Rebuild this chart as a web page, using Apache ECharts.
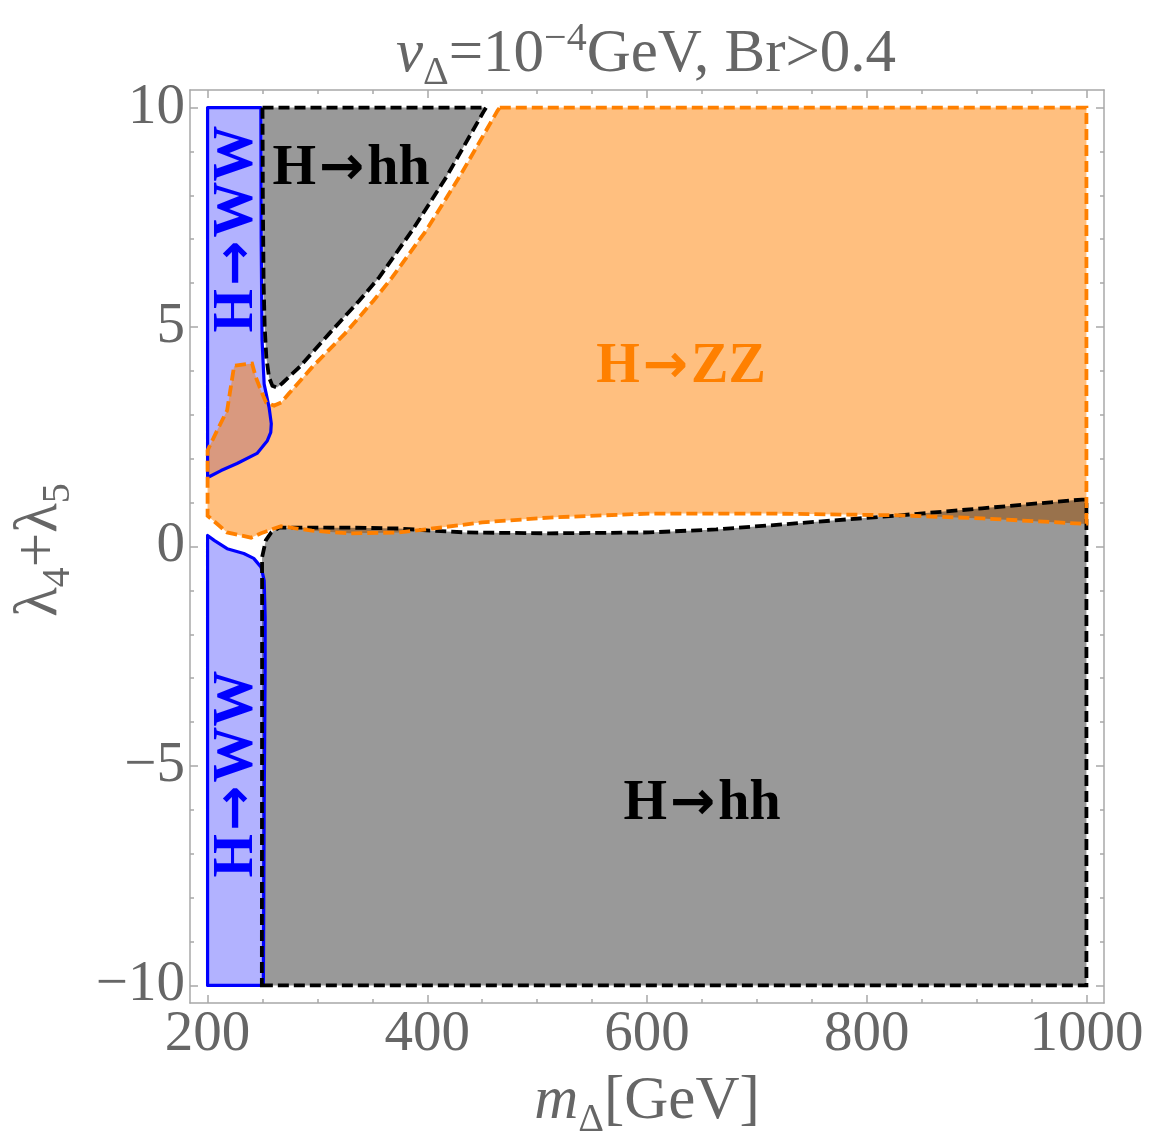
<!DOCTYPE html>
<html><head><meta charset="utf-8">
<script src="https://cdn.jsdelivr.net/npm/echarts@6/dist/echarts.min.js"></script>
<style>html,body{margin:0;padding:0;background:#fff}#c{width:1168px;height:1138px}</style>
</head><body><div id="c"></div>
<script>
// ---- tick data ----
const xMajorTicks = [200, 400, 600, 800, 1000];
const xTickLabels = ['200', '400', '600', '800', '1000'];
const xMinorTicks = [250, 300, 350, 450, 500, 550, 650, 700, 750, 850, 900, 950];
const yMajorTicks = [-10, -5, 0, 5, 10];
const yTickLabels = ['\u221210', '\u22125', '0', '5', '10'];
const yMinorTicks = [-9, -8, -7, -6, -4, -3, -2, -1, 1, 2, 3, 4, 6, 7, 8, 9];

// ---- region boundaries [m_Delta, lambda4+lambda5] ----
const blueUpper = [[200,10],[248.5,10],[248.8,7],[249.3,5.5],[249.6,4.7],[251.5,3.7],[256,3.17],[258,2.8],[257.5,2.6],[254.4,2.41],[245,2.12],[226.8,1.89],[212.3,1.73],[201.4,1.59],[200,1.59]];
const blueLower = [[200,-10],[250.8,-10],[251.5,-6],[252.4,-2.75],[252.4,-1.6],[251.5,-0.77],[248.7,-0.47],[242,-0.27],[233,-0.16],[217.8,-0.05],[206,0.14],[200,0.25]];
const grayUpper = [[250,10],[453.6,10],[451.8,9.93],[417.2,8.41],[386.2,7.2],[356.2,6.13],[338,5.6],[310.7,4.85],[283.3,4.08],[268,3.72],[263.3,3.62],[259,3.66],[256,3.85],[253.5,4.3],[252,5.0],[251,6.0],[250.3,8.0]];
const grayLower = [[249.4,-10],[1000,-10],[1000,1.07],[996,1.07],[905,0.87],[830,0.71],[711,0.48],[663,0.39],[602,0.32],[511,0.30],[435,0.32],[405,0.36],[374,0.41],[329,0.43],[265,0.43],[258,0.32],[253,0.14],[249.6,-0.25],[249.6,-0.7],[249.6,-3]];
const orangeZZ = [[466,10],[1000,10],[1000,0.52],[996,0.52],[905,0.64],[830,0.71],[711,0.75],[602,0.75],[511,0.66],[450,0.55],[405,0.41],[374,0.32],[329,0.30],[295,0.36],[267,0.46],[260.6,0.41],[248.7,0.3],[239.6,0.2],[217.8,0.32],[200,0.7],[200,2.19],[208.6,2.64],[217.8,3.1],[224.2,4.12],[240.5,4.17],[244,3.85],[248.7,3.55],[253.3,3.28],[260.6,3.21],[267,3.28],[274.2,3.49],[295,4.08],[325,4.85],[351,5.6],[368,6.13],[399,7.2],[429,8.41],[464,9.93]];

const SERIF = '"Liberation Serif", "Times New Roman", serif';
const GRAYTXT = '#666666';
const FRAME = '#a8a8a8';

function polySeries(pts, style, z) {
  return {
    type: 'custom', xAxisIndex: 0, yAxisIndex: 0, z: z, silent: true, animation: false,
    data: [0],
    renderItem: function (params, api) {
      return { type: 'polygon', shape: { points: pts.map(function (p) { return api.coord(p); }) }, style: style };
    }
  };
}

const fillBlue = 'rgba(0,0,255,0.3)';
const fillOrange = 'rgba(255,128,0,0.5)';
const fillGray = 'rgba(0,0,0,0.4)';
const dash = [11, 5];

const series = [
  polySeries(blueUpper, { fill: fillBlue, stroke: 'none' }, 2),
  polySeries(blueLower, { fill: fillBlue, stroke: 'none' }, 2),
  polySeries(orangeZZ, { fill: fillOrange, stroke: 'none' }, 3),
  polySeries(grayUpper, { fill: fillGray, stroke: 'none' }, 4),
  polySeries(grayLower, { fill: fillGray, stroke: 'none' }, 4),
  polySeries(blueUpper, { fill: 'none', stroke: '#0000ff', lineWidth: 3.2, lineJoin: 'round' }, 6),
  polySeries(blueLower, { fill: 'none', stroke: '#0000ff', lineWidth: 3.2, lineJoin: 'round' }, 6),
  polySeries(grayUpper, { fill: 'none', stroke: '#000000', lineWidth: 3.8, lineDash: dash }, 7),
  polySeries(grayLower, { fill: 'none', stroke: '#000000', lineWidth: 3.8, lineDash: dash }, 7),
  polySeries(orangeZZ, { fill: 'none', stroke: '#ff8000', lineWidth: 3.8, lineDash: dash }, 8)
];

const XMIN = 184, XMAX = 1016, YMIN = -10.4, YMAX = 10.4;
function axisBase(extra) {
  return Object.assign({ type: 'value', splitLine: { show: false }, axisLine: { show: false, onZero: false } }, extra);
}
const lineSt = { color: FRAME, width: 1.5 };

const xAxes = [
  axisBase({ position: 'bottom', min: XMIN, max: XMAX,
    axisLine: { show: true, onZero: false, lineStyle: lineSt },
    axisTick: { show: true, inside: true, length: 8, customValues: xMajorTicks, lineStyle: lineSt },
    axisLabel: { show: true, customValues: xMajorTicks, margin: 4, fontSize: 57, fontFamily: SERIF, color: GRAYTXT,
      formatter: function (v) { const i = xMajorTicks.indexOf(v); return i >= 0 ? xTickLabels[i] : ''; } } }),
  axisBase({ position: 'bottom', min: XMIN, max: XMAX,
    axisTick: { show: true, inside: true, length: 4, customValues: xMinorTicks, lineStyle: lineSt },
    axisLabel: { show: false } }),
  axisBase({ position: 'top', min: XMIN, max: XMAX,
    axisLine: { show: true, onZero: false, lineStyle: lineSt },
    axisTick: { show: true, inside: true, length: 8, customValues: xMajorTicks, lineStyle: lineSt },
    axisLabel: { show: false } }),
  axisBase({ position: 'top', min: XMIN, max: XMAX,
    axisTick: { show: true, inside: true, length: 4, customValues: xMinorTicks, lineStyle: lineSt },
    axisLabel: { show: false } })
];
const yAxes = [
  axisBase({ position: 'left', min: YMIN, max: YMAX,
    axisLine: { show: true, onZero: false, lineStyle: lineSt },
    axisTick: { show: true, inside: true, length: 8, customValues: yMajorTicks, lineStyle: lineSt },
    axisLabel: { show: true, customValues: yMajorTicks, margin: 5, fontSize: 57, fontFamily: SERIF, color: GRAYTXT,
      formatter: function (v) { const i = yMajorTicks.indexOf(v); return i >= 0 ? yTickLabels[i] : ''; } } }),
  axisBase({ position: 'left', min: YMIN, max: YMAX,
    axisTick: { show: true, inside: true, length: 4, customValues: yMinorTicks, lineStyle: lineSt },
    axisLabel: { show: false } }),
  axisBase({ position: 'right', min: YMIN, max: YMAX,
    axisLine: { show: true, onZero: false, lineStyle: lineSt },
    axisTick: { show: true, inside: true, length: 8, customValues: yMajorTicks, lineStyle: lineSt },
    axisLabel: { show: false } }),
  axisBase({ position: 'right', min: YMIN, max: YMAX,
    axisTick: { show: true, inside: true, length: 4, customValues: yMinorTicks, lineStyle: lineSt },
    axisLabel: { show: false } })
];

function tok(size, pb, italic) {
  return { fontFamily: SERIF, fontSize: size, lineHeight: size, fontStyle: italic ? 'italic' : 'normal',
    padding: [0, 0, pb, 0], verticalAlign: 'bottom', fill: GRAYTXT, color: GRAYTXT };
}
const richMath = { it: tok(61, 8, true), n: tok(61, 8, false), sub: tok(40, 0, false), sup: tok(40, 34, false) };

function regionLabel(a, b, x, y, color, rot) {
  const t = { fontFamily: SERIF, fontWeight: 'bold', fontSize: 56, lineHeight: 60, verticalAlign: 'middle', fill: color, color: color };
  const arr = { fontFamily: '"DejaVu Sans"', fontWeight: 'bold', fontSize: 54, lineHeight: 60, verticalAlign: 'middle', fill: color, color: color, padding: [0, 3, 0, 3] };
  return { type: 'text', x: x, y: y, rotation: rot || 0, z: 100, silent: true,
    style: { text: '{t|' + a + '}{a|\u2192}{t|' + b + '}', rich: { t: t, a: arr },
      align: 'center', verticalAlign: 'middle', textAlign: 'center', textVerticalAlign: 'middle' } };
}

const graphic = [
  { type: 'text', x: 646, y: 93, z: 100, silent: true,
    style: { text: '{it|v}{sub|\u0394}{n|=10}{sup|\u22124}{n|GeV, Br>0.4}', rich: richMath,
      align: 'center', verticalAlign: 'bottom', textAlign: 'center', textVerticalAlign: 'bottom' } },
  { type: 'text', x: 647, y: 1140, z: 100, silent: true,
    style: { text: '{it|m}{sub|\u0394}{n|[GeV]}', rich: richMath,
      align: 'center', verticalAlign: 'bottom', textAlign: 'center', textVerticalAlign: 'bottom' } },
  { type: 'text', x: 78, y: 550, rotation: Math.PI / 2, z: 100, silent: true,
    style: { text: '{n|\u03bb}{sub|4}{n|+\u03bb}{sub|5}', rich: richMath,
      align: 'center', verticalAlign: 'bottom', textAlign: 'center', textVerticalAlign: 'bottom' } },
  regionLabel('H', 'hh', 351, 170, '#000000'),
  regionLabel('H', 'hh', 702, 805, '#000000'),
  regionLabel('H', 'ZZ', 681, 368, '#ff8000'),
  regionLabel('H', 'WW', 238, 229, '#0000ff', Math.PI / 2),
  regionLabel('H', 'WW', 238, 774, '#0000ff', Math.PI / 2)
];

const chart = echarts.init(document.getElementById('c'), null, { renderer: 'canvas' });
chart.setOption({
  animation: false,
  backgroundColor: '#ffffff',
  grid: { left: 190, right: 64, top: 90, bottom: 135, containLabel: false, outerBoundsMode: 'none' },
  xAxis: xAxes,
  yAxis: yAxes,
  series: series,
  graphic: graphic
});
</script>
</body></html>
